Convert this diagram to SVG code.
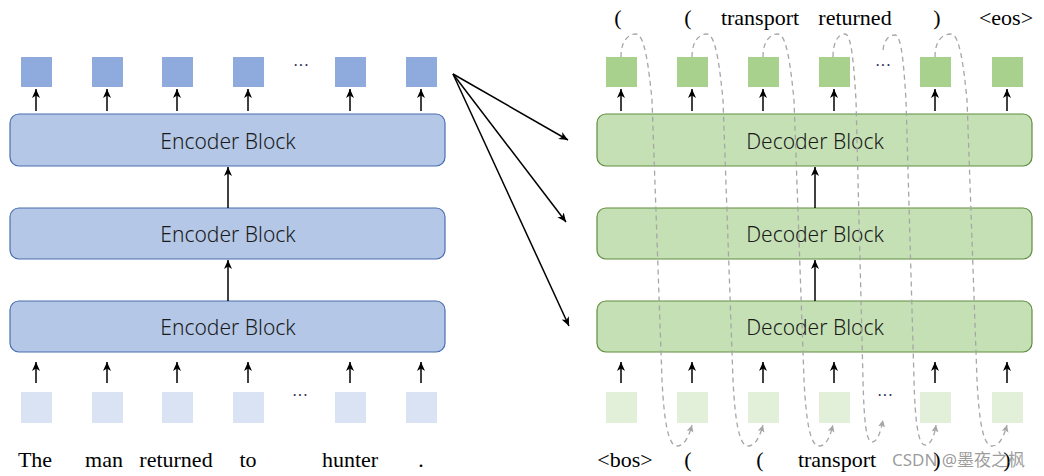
<svg xmlns="http://www.w3.org/2000/svg" width="1044" height="476" viewBox="0 0 1044 476">
<defs>
<marker id="ah" markerUnits="userSpaceOnUse" markerWidth="12" markerHeight="10" refX="9" refY="4" orient="auto"><path d="M0,0 L9,4 L0,8 L2.5,4 z" fill="#000"/></marker>
<marker id="ahg" markerUnits="userSpaceOnUse" markerWidth="10" markerHeight="10" refX="7" refY="3.5" orient="auto"><path d="M0,0 L7,3.5 L0,7 L1.5,3.5 z" fill="#A6A6A6"/></marker>
<style>
.eb{fill:#B4C7E7;stroke:#4A6FAE;stroke-width:1.2}
.db{fill:#C5E0B4;stroke:#5E8E3E;stroke-width:1.2}
.bt{font-family:"Noto Sans","DejaVu Sans",sans-serif;font-size:21px;font-weight:300;fill:#1a1a1a;text-anchor:middle}
.et{fill:#8FAADC}.ei{fill:#DAE3F3}.dt{fill:#A9D18E}.di{fill:#E2F0D9}
.ar{stroke:#000;stroke-width:1.5;fill:none;marker-end:url(#ah)}
.ds{stroke:#A6A6A6;stroke-width:1.3;fill:none;stroke-dasharray:5 4;marker-end:url(#ahg)}
.w{font-family:"Liberation Serif","Times New Roman",serif;font-size:22px;fill:#000;text-anchor:middle}
.dot{font-family:"Liberation Serif",serif;font-size:16px;fill:#1F2D50;text-anchor:middle}
</style>
</defs>
<g id="encoder-outputs">
<rect class="et" x="21" y="57" width="31" height="30"/><rect class="et" x="92" y="57" width="31" height="30"/><rect class="et" x="162" y="57" width="31" height="30"/><rect class="et" x="233" y="57" width="31" height="30"/><rect class="et" x="335" y="57" width="31" height="30"/><rect class="et" x="406" y="57" width="31" height="30"/>
<text class="dot" x="301" y="71">···</text>
</g>
<g id="encoder-block-1"><rect class="eb" x="10" y="114" width="435" height="52" rx="9"/><text class="bt" x="228" y="149">Encoder Block</text></g>
<g id="encoder-block-2"><rect class="eb" x="10" y="208" width="435" height="51" rx="9"/><text class="bt" x="228" y="242">Encoder Block</text></g>
<g id="encoder-block-3"><rect class="eb" x="10" y="301" width="435" height="51" rx="9"/><text class="bt" x="228" y="335">Encoder Block</text></g>
<g id="encoder-inputs">
<rect class="ei" x="21" y="392" width="31" height="31"/><rect class="ei" x="92" y="392" width="31" height="31"/><rect class="ei" x="162" y="392" width="31" height="31"/><rect class="ei" x="233" y="392" width="31" height="31"/><rect class="ei" x="335" y="392" width="31" height="31"/><rect class="ei" x="406" y="392" width="31" height="31"/>
<text class="dot" x="300" y="401">···</text>
</g>
<g id="encoder-words">
<text class="w" x="35" y="467">The</text><text class="w" x="104" y="467">man</text><text class="w" x="176" y="467">returned</text><text class="w" x="248" y="467">to</text><text class="w" x="350" y="467">hunter</text><text class="w" x="421" y="467">.</text>
</g>
<g id="decoder-outputs">
<rect class="dt" x="606" y="57" width="31" height="30"/><rect class="dt" x="677" y="57" width="31" height="30"/><rect class="dt" x="748" y="57" width="31" height="30"/><rect class="dt" x="819" y="57" width="31" height="30"/><rect class="dt" x="920" y="57" width="31" height="30"/><rect class="dt" x="992" y="57" width="31" height="30"/>
<text class="dot" x="883" y="71">···</text>
</g>
<g id="decoder-block-1"><rect class="db" x="597" y="114" width="435" height="52" rx="9"/><text class="bt" x="815" y="149">Decoder Block</text></g>
<g id="decoder-block-2"><rect class="db" x="597" y="208" width="435" height="51" rx="9"/><text class="bt" x="815" y="242">Decoder Block</text></g>
<g id="decoder-block-3"><rect class="db" x="597" y="301" width="435" height="51" rx="9"/><text class="bt" x="815" y="335">Decoder Block</text></g>
<g id="decoder-inputs">
<rect class="di" x="606" y="392" width="31" height="31"/><rect class="di" x="677" y="392" width="31" height="31"/><rect class="di" x="748" y="392" width="31" height="31"/><rect class="di" x="819" y="392" width="31" height="31"/><rect class="di" x="920" y="392" width="31" height="31"/><rect class="di" x="992" y="392" width="31" height="31"/>
<text class="dot" x="885" y="401">···</text>
</g>
<g id="decoder-top-words">
<text class="w" x="618" y="25">(</text><text class="w" x="688" y="25">(</text><text class="w" x="760" y="25">transport</text><text class="w" x="855" y="25">returned</text><text class="w" x="937" y="25">)</text><text class="w" x="1006" y="25">&lt;eos&gt;</text>
</g>
<g id="decoder-bottom-words">
<text class="w" x="625" y="467">&lt;bos&gt;</text><text class="w" x="688" y="467">(</text><text class="w" x="760" y="467">(</text><text class="w" x="837" y="467">transport</text><text class="w" x="937" y="467">)</text><text class="w" x="1007" y="467">)</text>
</g>
<g id="connectors">
<path class="ar" d="M36,111V89"/><path class="ar" d="M107,111V89"/><path class="ar" d="M177,111V89"/><path class="ar" d="M248,111V89"/><path class="ar" d="M350,111V89"/><path class="ar" d="M421,111V89"/>
<path class="ar" d="M36,383V362"/><path class="ar" d="M107,383V362"/><path class="ar" d="M177,383V362"/><path class="ar" d="M248,383V362"/><path class="ar" d="M350,383V362"/><path class="ar" d="M421,383V362"/>
<path class="ar" d="M228,208V167"/><path class="ar" d="M228,301V260"/>
<path class="ar" d="M621,111V89"/><path class="ar" d="M692,111V89"/><path class="ar" d="M763,111V89"/><path class="ar" d="M834,111V89"/><path class="ar" d="M935,111V89"/><path class="ar" d="M1007,111V89"/>
<path class="ar" d="M621,383V362"/><path class="ar" d="M692,383V362"/><path class="ar" d="M763,383V362"/><path class="ar" d="M834,383V362"/><path class="ar" d="M935,383V362"/><path class="ar" d="M1007,383V362"/>
<path class="ar" d="M815,208V167"/><path class="ar" d="M815,301V260"/>
<path class="ar" d="M453,74L568,140"/><path class="ar" d="M453,74L566,222"/><path class="ar" d="M453,74L569,326"/>
<path class="ds" d="M621,57C621,41 628,34 636,34C645,34 649,70 652,100L662,380C664,420 668,446 677,446C686,446 690,432 692,425"/>
<path class="ds" d="M692,57C692,41 699,34 707,34C716,34 720,70 723,100L733,380C735,420 739,446 748,446C757,446 761,432 763,425"/>
<path class="ds" d="M763,57C763,41 770,34 778,34C787,34 791,70 794,100L804,380C806,420 810,446 819,446C828,446 831,432 833,425"/>
<path class="ds" d="M833,57C833,42 838,34 845,34C852,34 854,70 856,100L863,380C864,420 866,442 872,442C878,442 881,430 883,420"/>
<path class="ds" d="M883,50C884,40 889,35 895,35C902,35 904,70 906,100L914,380C915,420 918,445 925,445C932,445 935,432 936,425"/>
<path class="ds" d="M935,57C935,41 942,34 951,34C960,34 964,70 967,100L977,380C979,420 983,446 992,446C1001,446 1005,432 1007,425"/>
</g>
<text x="892" y="466" font-family="'Noto Sans','Noto Sans CJK SC',sans-serif" font-size="17" fill="#8a8a8a" fill-opacity="0.85">CSDN @墨夜之枫</text>
</svg>
